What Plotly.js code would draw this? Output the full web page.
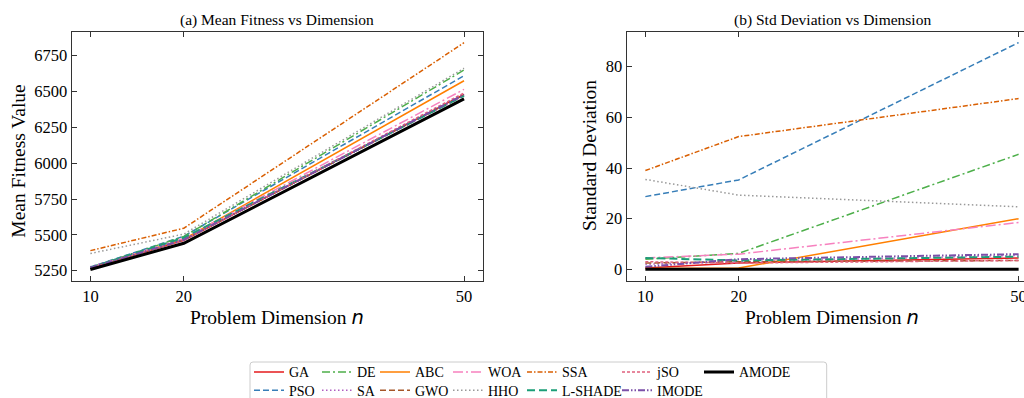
<!DOCTYPE html>
<html>
<head>
<meta charset="utf-8">
<script src="https://cdn.plot.ly/plotly-3.0.1.min.js"></script>
<style>html,body{margin:0;padding:0;background:#fff;}#chart{width:1024px;height:398px;}</style>
</head>
<body>
<div id="chart"></div>
<script>
// ---- data ----
const dimensions = [10, 20, 50];
const algorithms = ["GA","PSO","DE","SA","ABC","GWO","WOA","HHO","SSA","L-SHADE","jSO","IMODE","AMODE"];

const meanGA     = [5268, 5462, 6480];
const meanPSO    = [5275, 5490, 6610];
const meanDE     = [5272, 5488, 6650];
const meanSA     = [5278, 5470, 6470];
const meanABC    = [5266, 5470, 6575];
const meanGWO    = [5270, 5465, 6475];
const meanWOA    = [5270, 5475, 6515];
const meanHHO    = [5370, 5505, 6662];
const meanSSA    = [5390, 5546, 6840];
const meanLSHADE = [5272, 5480, 6470];
const meanJSO    = [5268, 5462, 6490];
const meanIMODE  = [5270, 5466, 6478];
const meanAMODE  = [5258, 5441, 6448];

const stdGA     = [0.5, 2.5, 4.5];
const stdPSO    = [28.7, 35.3, 89.5];
const stdDE     = [4.0, 6.3, 45.4];
const stdSA     = [2.0, 3.0, 5.5];
const stdABC    = [0.3, 0.5, 20.0];
const stdGWO    = [2.5, 3.0, 3.5];
const stdWOA    = [4.5, 6.0, 18.5];
const stdHHO    = [35.5, 29.3, 24.7];
const stdSSA    = [39.0, 52.4, 67.4];
const stdLSHADE = [4.5, 3.5, 5.0];
const stdJSO    = [3.0, 2.5, 3.5];
const stdIMODE  = [1.0, 4.0, 6.0];
const stdAMODE  = [0, 0, 0];

const meanSeries = [meanGA, meanPSO, meanDE, meanSA, meanABC, meanGWO, meanWOA, meanHHO, meanSSA, meanLSHADE, meanJSO, meanIMODE, meanAMODE];
const stdSeries  = [stdGA, stdPSO, stdDE, stdSA, stdABC, stdGWO, stdWOA, stdHHO, stdSSA, stdLSHADE, stdJSO, stdIMODE, stdAMODE];

// ---- styles ----
const styles = {
  "GA":      {color:"#e41a1c", dash:"solid", width:1.5},
  "PSO":     {color:"#377eb8", dash:"6px,3px", width:1.5},
  "DE":      {color:"#4daf4a", dash:"8px,3px,2px,3px", width:1.5},
  "SA":      {color:"#b05ec0", dash:"1.5px,2.5px", width:1.5},
  "ABC":     {color:"#ff7f00", dash:"solid", width:1.5},
  "GWO":     {color:"#a65628", dash:"6px,3px", width:1.5},
  "WOA":     {color:"#f781bf", dash:"10px,3px,2px,3px", width:1.5},
  "HHO":     {color:"#999999", dash:"1.5px,2.5px", width:1.5},
  "SSA":     {color:"#d95f02", dash:"5px,2px,1.5px,2px", width:1.5},
  "L-SHADE": {color:"#1b9e77", dash:"8px,4px", width:2},
  "jSO":     {color:"#e0607e", dash:"3px,2px", width:1.5},
  "IMODE":   {color:"#7b4fa8", dash:"7px,2px,1.5px,2px,1.5px,2px", width:2},
  "AMODE":   {color:"#000000", dash:"solid", width:3}
};
// legend grid position (column, row) like a 7-column matplotlib legend
const legendCell = {"GA":[0,0],"PSO":[0,1],"DE":[1,0],"SA":[1,1],"ABC":[2,0],"GWO":[2,1],
  "WOA":[3,0],"HHO":[3,1],"SSA":[4,0],"L-SHADE":[4,1],"jSO":[5,0],"IMODE":[5,1],"AMODE":[6,0]};
const legendColX = [249, 317, 375, 448, 522, 617, 699];
const legendRowY = [372.3, 390.7];

const FONT = "Liberation Serif";
const W = 1024, H = 398;
const px = v => v / W, py = v => 1 - v / H;

const traces = [];
const legendDefs = {};
algorithms.forEach((name, i) => {
  const s = styles[name];
  const key = i === 0 ? "legend" : "legend" + (i + 1);
  const cell = legendCell[name];
  legendDefs[key] = {x: px(legendColX[cell[0]]), xanchor:"left", y: py(legendRowY[cell[1]]), yanchor:"middle",
    orientation:"v", bgcolor:"rgba(0,0,0,0)", borderwidth:0,
    font:{family:FONT, size:14, color:"#000"}, itemwidth:30};
  traces.push({x: dimensions, y: meanSeries[i], type:"scatter", mode:"lines", name: name,
    line:{color:s.color, dash:s.dash, width:s.width}, xaxis:"x", yaxis:"y",
    legend: key, showlegend:true, hoverinfo:"skip"});
});
algorithms.forEach((name, i) => {
  const s = styles[name];
  traces.push({x: dimensions, y: stdSeries[i], type:"scatter", mode:"lines", name: name,
    line:{color:s.color, dash:s.dash, width:s.width}, xaxis:"x2", yaxis:"y2",
    showlegend:false, hoverinfo:"skip"});
});

const axisCommon = {
  showgrid:false, zeroline:false, showline:true, linecolor:"#333", linewidth:1.2,
  ticks:"inside", ticklen:5, tickwidth:1, tickcolor:"#333",
  tickfont:{family:FONT, size:16.5, color:"#000"}, ticklabeloverflow:"allow"
};

function ann(text, x, y, size, angle) {
  return {text:text, xref:"paper", yref:"paper", x:px(x), y:py(y), xanchor:"center", yanchor:"middle",
    showarrow:false, textangle:angle || 0, font:{family:FONT, size:size, color:"#000"}};
}
const xTitle = "Problem Dimension <span style='font-family:DejaVu Sans'><i>n</i></span>";

const layout = Object.assign({
  width: W, height: H,
  margin:{l:0, r:0, t:0, b:0, autoexpand:false},
  paper_bgcolor:"#fff", plot_bgcolor:"#fff",
  font:{family:FONT, color:"#000"},
  showlegend:true,
  xaxis: Object.assign({}, axisCommon, {domain:[px(71.7), px(482.7)], range:[8, 52], tickvals:dimensions, mirror:"ticks", anchor:"y"}),
  yaxis: Object.assign({}, axisCommon, {domain:[py(281), py(31.7)], range:[5178, 6917], dtick:250, tick0:5250, mirror:"ticks", anchor:"x"}),
  xaxis2: Object.assign({}, axisCommon, {domain:[px(626.7), 1], range:[8, 50.58], tickvals:dimensions, mirror:"ticks", anchor:"y2"}),
  yaxis2: Object.assign({}, axisCommon, {domain:[py(281), py(31.7)], range:[-4.6, 93.8], dtick:20, tick0:0, mirror:false, anchor:"x2"}),
  annotations:[
    ann("(a) Mean Fitness vs Dimension", 277, 20, 15.5),
    ann("(b) Std Deviation vs Dimension", 832, 20, 15.5),
    ann("Mean Fitness Value", 19, 161.7, 19.5, -90),
    ann("Standard Deviation", 590, 156, 19.5, -90),
    ann(xTitle, 277, 317, 19.5),
    ann(xTitle, 832, 317, 19.5)
  ],
  shapes:[
    {type:"path", xref:"paper", yref:"paper", layer:"below",
     path:"M"+px(250)+","+py(410)+" L"+px(250)+","+py(365)+" Q"+px(250)+","+py(362)+" "+px(253)+","+py(362)+
          " L"+px(823.7)+","+py(362)+" Q"+px(826.7)+","+py(362)+" "+px(826.7)+","+py(365)+" L"+px(826.7)+","+py(410),
     line:{color:"#cccccc", width:1}}
  ]
}, legendDefs);

Plotly.newPlot("chart", traces, layout, {staticPlot:true, displayModeBar:false});
</script>
</body>
</html>
